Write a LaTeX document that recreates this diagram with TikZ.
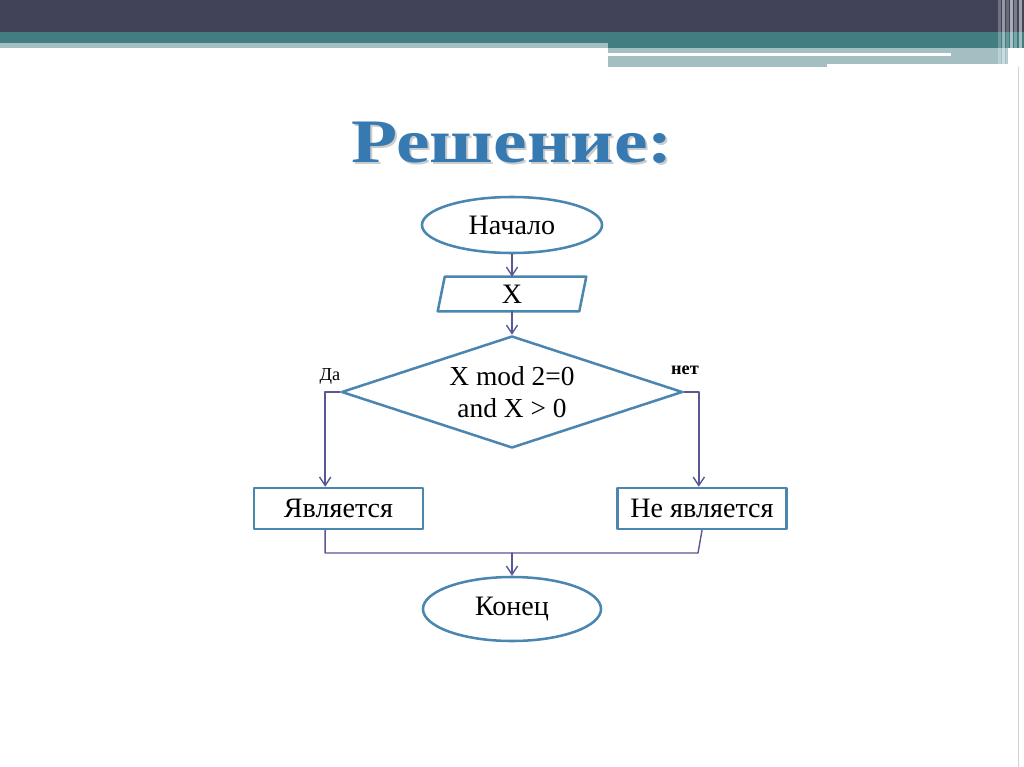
\documentclass[tikz,border=0pt]{standalone}
\usepackage{fontspec}
\setmainfont{Liberation Serif}
\usetikzlibrary{shapes.geometric,arrows.meta}
\definecolor{shapka}{RGB}{65,67,89}
\definecolor{biryuza}{RGB}{66,125,130}
\definecolor{svetlo}{RGB}{163,191,194}
\definecolor{kontur}{RGB}{74,134,176}
\definecolor{liniya}{RGB}{88,88,148}
\definecolor{zagolovok}{RGB}{55,122,178}
\begin{document}
\begin{tikzpicture}[line cap=round,line join=round,x=0.025cm,y=-0.025cm,
  blok/.style={draw=kontur,line width=1.8pt,inner sep=0pt,font=\fontsize{20}{23}\selectfont},
  oval/.style={blok,ellipse},
  pryam/.style={blok,rectangle,minimum width=4.225cm,minimum height=1.025cm},
  svyaz/.style={draw=liniya,line width=1pt},
  strelka/.style={svyaz,-{Straight Barb[length=6pt,width=8pt]}},
  metka/.style={font=\fontsize{13}{15}\selectfont}]
\useasboundingbox (0,0) rectangle (1024,767);
%%Шапка слайда
\fill[shapka] (0,0) rectangle (1024,32);
\fill[biryuza] (0,32) rectangle (1024,43);
\fill[biryuza] (608,43) rectangle (1024,48);
\fill[svetlo] (0,43) rectangle (608,48);
\fill[svetlo] (608,48) rectangle (1008,64);
\fill[svetlo] (608,64) rectangle (827,67);
\fill[white] (608,53) rectangle (951,56);
\foreach \x/\o in {998/0.25,1002/0.45,1006/0.2,1010/0.55,1014/0.3,1019/0.5}
\fill[white,opacity=\o] (\x,0) rectangle ++(2.5,67);
\draw[gray!35,line width=0.6pt] (1018,67) -- (1018,767);
%%Заголовок
\node[anchor=base,text=black!40,opacity=.5,xscale=1.22,font=\bfseries\fontsize{44}{50}\selectfont] (ten) at (514,165) {Решение:};
\node[anchor=base,text=zagolovok,xscale=1.22,font=\bfseries\fontsize{44}{50}\selectfont] (zag) at (512,163) {Решение:};
%%Блоки
\node[oval,minimum width=4.5cm,minimum height=1.4cm] (nach) at (512,225) {Начало};
\node[blok,draw=none,minimum width=3.65cm,minimum height=0.8cm] (vvod) at (512,294) {X};
\draw[kontur,line width=1.8pt] (vvod.south west) -- ([xshift=0.175cm]vvod.north west) -- (vvod.north east) -- ([xshift=-0.175cm]vvod.south east) -- cycle;
\node[blok,diamond,shape aspect=3,minimum width=8.525cm,minimum height=2.8cm,font=\fontsize{19.5}{23}\selectfont,align=center] (uslovie) at (512,392) {X mod 2=0\\and X > 0};
\node[pryam] (da) at (338.5,508.5) {Является};
\node[pryam] (net) at (702,508.5) {Не является};
\node[oval,minimum width=4.45cm,minimum height=1.6cm] (konec) at (512,609) {Конец};
%%Подписи
\node[metka] (lda) at (330,376) {Да};
\node[metka,font=\bfseries\fontsize{13}{15}\selectfont] (lnet) at (685,370) {нет};
%%Стрелки
\path (uslovie.west) ++(-15,0) coordinate (daL);
\path (uslovie.east) ++(15,0) coordinate (netR);
\coordinate (sliv) at (512,553);
\coordinate (slivL) at (daL |- sliv);
\coordinate (slivR) at (698,553);
\draw[strelka] (nach.south) -- (vvod.north);
\draw[strelka] (vvod.south) -- (uslovie.north);
\draw[strelka] (uslovie.west) -- (daL) -- (daL |- da.north);
\draw[strelka] (uslovie.east) -- (netR) -- (netR |- net.north);
\draw[svyaz] (daL |- da.south) -- (slivL) -- (slivR) -- (net.south);
\draw[strelka] (sliv) -- (konec.north);
\end{tikzpicture}
\end{document}
